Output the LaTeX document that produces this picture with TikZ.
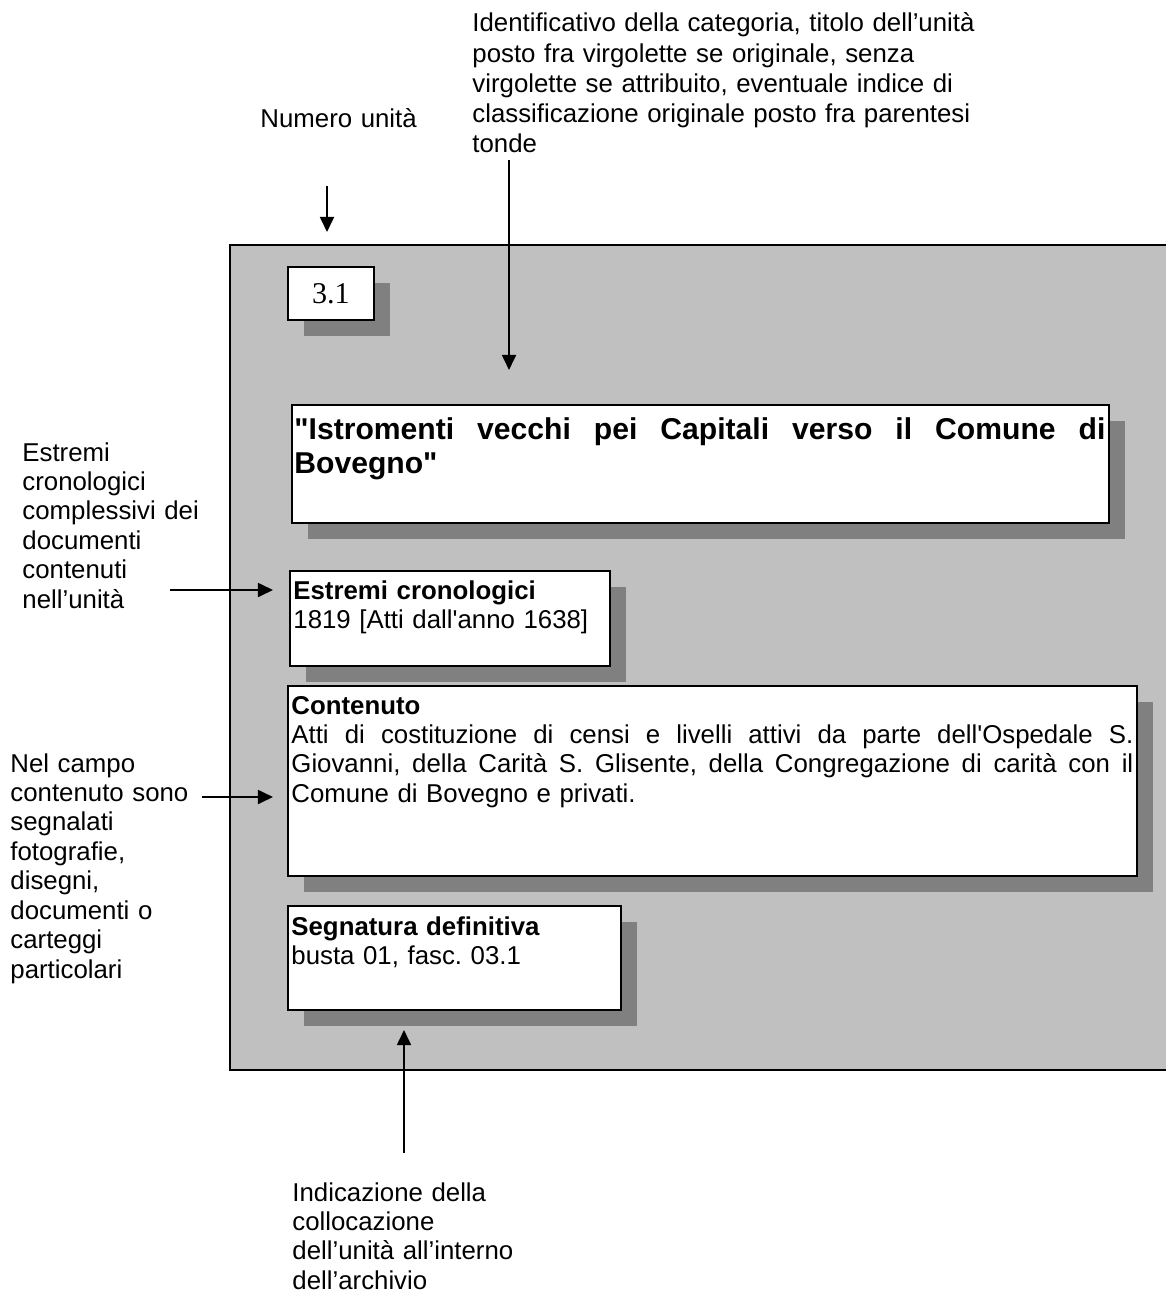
\documentclass[tikz,border=0pt]{standalone}
\usepackage{fontspec}
\setmainfont{Liberation Sans}
\newfontfamily\tnrfont{Liberation Serif}
\usetikzlibrary{arrows.meta,shadows,positioning}
\definecolor{cornice}{HTML}{C0C0C0}
\definecolor{ombra}{HTML}{808080}
\frenchspacing
\newcommand{\px}{0.465pt}
% riga giustificata
\newcommand{\riga}[1]{\leavevmode\hbox to\hsize{\spaceskip=0.278em plus 1fil\relax #1}}
\tikzstyle{freccia}=[-{Triangle[length=7pt,width=6.5pt]},
                     line width=0.9pt]
\tikzstyle{campo}  =[draw, fill=white, line width=0.9pt,
                     inner sep=0pt, anchor=north west,
                     drop shadow={shadow xshift=7.44pt,
                     shadow yshift=-7.44pt, fill=ombra, opacity=1}]
\tikzstyle{testo}  =[inner sep=0pt, anchor=base west, align=left,
                     text width=140pt, font=\fontsize{12}{13.7}\selectfont]
\begin{document}
\begin{tikzpicture}[x=\px, y=-\px]
    \useasboundingbox (0,0) rectangle (1165,1292);

    \node[draw, fill=cornice, line width=0.9pt, inner sep=0pt, anchor=north west,
          minimum width=442.2pt, minimum height=383.6pt] (scheda) at (229,244) {};

    \node[campo, minimum width=40pt, minimum height=24.6pt,
          font=\tnrfont\fontsize{14}{16}\selectfont] (numero) at (287,266) {3.1};
    \node[campo, minimum width=379.9pt, minimum height=54.9pt] (titolo) at (291,404) {};
    \node[campo, minimum width=148.8pt, minimum height=44.2pt] (estremi) at (289,570) {};
    \node[campo, minimum width=394.8pt, minimum height=88.4pt] (contenuto) at (287,685) {};
    \node[campo, minimum width=154.8pt, minimum height=48.4pt] (segnatura) at (287,905) {};

    % testi dei campi
    \node[testo, text width=377.1pt, font=\bfseries\fontsize{14}{16.1}\selectfont]
        (titolo-t) at ([shift={(3,35)}]titolo.north west)
        {\riga{\textquotedbl Istromenti vecchi pei Capitali verso il Comune di}\\Bovegno\textquotedbl};
    \node[testo] (estremi-t) at ([shift={(4,29)}]estremi.north west)
        {\textbf{Estremi cronologici}\\1819 [Atti dall\textquotesingle anno 1638]};
    \node[testo, text width=391.5pt] (contenuto-t) at ([shift={(4,29)}]contenuto.north west)
        {\textbf{Contenuto}\\
         \riga{Atti di costituzione di censi e livelli attivi da parte dell\textquotesingle Ospedale S.}\\
         \riga{Giovanni, della Carità S. Glisente, della Congregazione di carità con il}\\
         Comune di Bovegno e privati.};
    \node[testo] (segnatura-t) at ([shift={(4,30)}]segnatura.north west)
        {\textbf{Segnatura definitiva}\\busta 01, fasc. 03.1};

    % didascalie
    \node[testo] (lbl-numero) at (260,128) {Numero unità};
    \node[testo, text width=250pt, font=\fontsize{12}{14}\selectfont] (lbl-titolo) at (472,32)
        {Identificativo della categoria, titolo dell’unità\\
         posto fra virgolette se originale, senza\\
         virgolette se attribuito, eventuale indice di\\
         classificazione originale posto fra parentesi\\
         tonde};
    \node[testo, text width=100pt] (lbl-estremi) at (22,461)
        {Estremi\\cronologici\\complessivi dei\\documenti\\contenuti\\nell’unità};
    \node[testo, text width=100pt] (lbl-contenuto) at (10,772)
        {Nel campo\\contenuto sono\\segnalati\\fotografie,\\disegni,\\documenti o\\carteggi\\particolari};
    \node[testo] (lbl-segnatura) at (292,1201)
        {Indicazione della\\collocazione\\dell’unità all’interno\\dell’archivio};

    % frecce
    \coordinate (numero-da) at (327,186);    \coordinate (numero-a) at (327,232);
    \coordinate (titolo-da) at (509,160);    \coordinate (titolo-a) at (509,370);
    \coordinate (estremi-da) at (170,590);   \coordinate (estremi-a) at (273,590);
    \coordinate (contenuto-da) at (202,797); \coordinate (contenuto-a) at (273,797);
    \coordinate (segnatura-da) at (404,1153); \coordinate (segnatura-a) at (404,1030);
    \foreach \c in {numero,titolo,estremi,contenuto,segnatura}
        \draw[freccia] (\c-da) -- (\c-a);
\end{tikzpicture}
\end{document}
